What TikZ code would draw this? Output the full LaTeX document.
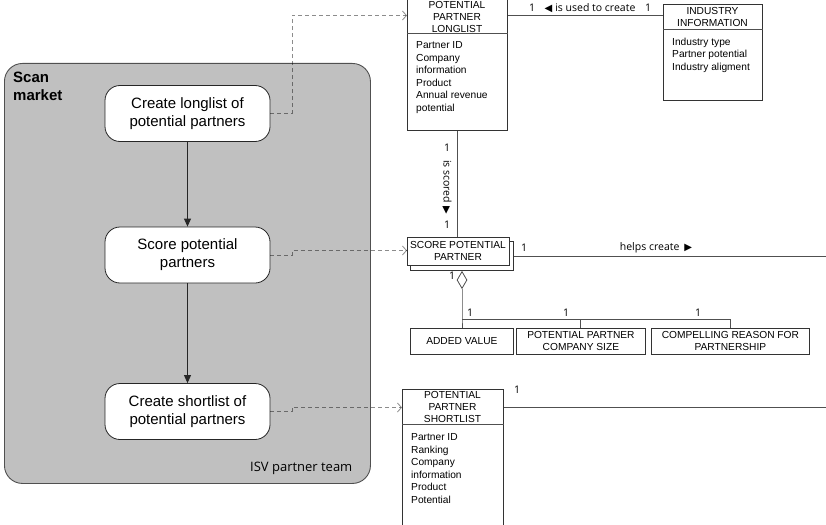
\documentclass[tikz,border=0pt]{standalone}
\usepackage{fontspec}
\setmainfont{Liberation Sans}
\newfontfamily\uifont{Open Sans}
\newfontfamily\symfont{DejaVu Sans}
\newcommand{\roleglyph}[1]{{\symfont\fontsize{10}{12}\selectfont #1}}
\usetikzlibrary{arrows.meta,shapes.geometric}
\definecolor{lanegray}{HTML}{C0C0C0}
\definecolor{edgegray}{HTML}{505050}

\begin{document}
\begin{tikzpicture}[x=1pt,y=-1pt,
  lane/.style={draw=edgegray, fill=lanegray, rounded corners=18pt, line width=0.9pt,
    anchor=north west, inner sep=0pt},
  activity/.style={draw=black!85, fill=white, rounded corners=15pt, line width=0.8pt,
    minimum width=165pt, minimum height=56pt, align=center, inner sep=0pt,
    font=\fontsize{15}{18}\selectfont},
  entity/.style={draw=black!80, fill=white, line width=0.8pt, anchor=north west, inner sep=0pt},
  head/.style={align=center, inner sep=0pt, font=\fontsize{10.2}{12}\selectfont},
  attrs/.style={align=left, anchor=west, inner sep=0pt, font=\fontsize{10.2}{12.6}\selectfont},
  flow/.style={draw=black!85, line width=0.9pt, -{Triangle[length=8pt,width=7pt]}},
  trace/.style={draw=black, draw opacity=0.45, dash pattern=on 4pt off 3pt, line width=0.8pt,
    -{Straight Barb[length=4pt,width=9pt]}},
  assoc/.style={draw=edgegray, line width=0.8pt},
  mult/.style={inner sep=0pt, font=\uifont\fontsize{10.5}{12}\selectfont},
  rolelabel/.style={inner sep=0pt, font=\uifont\fontsize{10.5}{12}\selectfont}
]
\useasboundingbox (0,0) rectangle (826,524);
\clip (0,0) rectangle (826,524);

% ---------- swimlane with the activities ----------
\node[lane, minimum width=366pt, minimum height=420pt] (lane) at (4,63) {};
\node[anchor=north west, align=left, inner sep=0pt,
      font=\bfseries\fontsize{15}{18}\selectfont] (lanetitle) at (13,72) {Scan\\market};
\node[anchor=base west, inner sep=0pt, font=\uifont\fontsize{13}{15}\selectfont]
      (laneowner) at (250,471) {ISV partner team};

\node[activity] (act1) at (187.5,113.5) {Create longlist of\\potential partners};
\node[activity] (act2) at (187.5,255) {Score potential\\partners};
\node[activity] (act3) at (187.5,411.5) {Create shortlist of\\potential partners};

\draw[flow] (act1.south) -- (act2.north);
\draw[flow] (act2.south) -- (act3.north);

% ---------- entities ----------
% potential partner longlist
\node[entity, minimum width=100pt, minimum height=140pt] (longlist) at (407,-10) {};
\draw[assoc] (longlist.west |- 0,33) -- (longlist.east |- 0,33);
\node[head] (longlisthead) at (457,17) {POTENTIAL\\PARTNER\\LONGLIST};
\node[attrs] (longlistattrs) at (416,77.5)
  {Partner ID\\Company\\information\\Product\\Annual revenue\\potential};

% industry information
\node[entity, minimum width=99pt, minimum height=96pt] (industry) at (663,4) {};
\draw[assoc] (industry.west |- 0,29) -- (industry.east |- 0,29);
\node[head] (industryhead) at (712.5,17) {INDUSTRY\\INFORMATION};
\node[attrs] (industryattrs) at (672,55) {Industry type\\Partner potential\\Industry aligment};

% score potential partner (drawn with its offset shadow box)
\node[entity, minimum width=103pt, minimum height=29pt] (scoreback) at (410,241) {};
\node[entity, minimum width=102pt, minimum height=28pt] (score) at (407,237) {};
\node[head] (scorehead) at (458,251) {SCORE POTENTIAL\\PARTNER};

% the three parts of a score
\node[entity, minimum width=103pt, minimum height=26pt] (added) at (410,328) {};
\node[head] at (added.center) {ADDED VALUE};
\node[entity, minimum width=129pt, minimum height=26pt] (size) at (516,328) {};
\node[head] at (size.center) {POTENTIAL PARTNER\\COMPANY SIZE};
\node[entity, minimum width=158pt, minimum height=26pt] (compel) at (651,328) {};
\node[head] at (compel.center) {COMPELLING REASON FOR\\PARTNERSHIP};

% potential partner shortlist
\node[entity, minimum width=101pt, minimum height=150pt] (shortlist) at (402,389) {};
\draw[assoc] (shortlist.west |- 0,424) -- (shortlist.east |- 0,424);
\node[head] (shortlisthead) at (452.5,407) {POTENTIAL\\PARTNER\\SHORTLIST};
\node[attrs] (shortlistattrs) at (411,468.5)
  {Partner ID\\Ranking\\Company\\information\\Product\\Potential};

% ---------- associations ----------
\draw[assoc] (longlist.east |- 0,15.5) -- (industry.west |- 0,15.5);
\node[mult] at (532,8) {1};
\node[rolelabel] (usedlabel) at (590,8) {\roleglyph{◀}\hspace{3pt}is used to create};
\node[mult] at (648,8) {1};

\draw[assoc] (longlist.south -| 457,0) -- (score.north -| 457,0);
\node[mult] at (447,148) {1};
\node[rolelabel, rotate=-90] (scoredlabel) at (447,187) {is scored\hspace{3pt}\roleglyph{▶}};
\node[mult] at (447,225) {1};

\coordinate (rightA) at (826,256);
\draw[assoc] (scoreback.east |- rightA) -- (rightA);
\node[mult] at (524,248) {1};
\node[rolelabel] (helpslabel) at (656,248) {helps create\hspace{5pt}\roleglyph{▶}};

% aggregation of the score parts
\node[diamond, draw=edgegray, fill=white, line width=0.8pt, inner sep=0pt,
      minimum width=10pt, minimum height=17pt] (agg) at (462,280) {};
\node[mult] at (452,276) {1};
\coordinate (junction) at (462,319);
\draw[assoc] (agg.south) -- (junction) -- (junction |- added.north);
\draw[assoc] (junction) -| (compel.north -| 730,0);
\draw[assoc] (junction -| 580,0) -- (size.north -| 580,0);
\node[mult] at (470,313) {1};
\node[mult] at (566,313) {1};
\node[mult] at (698,313) {1};

\coordinate (rightB) at (826,407);
\draw[assoc] (shortlist.east |- rightB) -- (rightB);
\node[mult] at (517,390) {1};

% ---------- traces from activities to entities ----------
\draw[trace] (act1.east) -- (292,113.5) -- (292,15.5) -- (longlist.west |- 0,15.5);
\draw[trace] (act2.east) -- (292,255) -- (292,250.5) -- (score.west |- 0,250.5);
\draw[trace] (act3.east) -- (292,411.5) -- (292,407.5) -- (shortlist.west |- 0,407.5);
\end{tikzpicture}
\end{document}
